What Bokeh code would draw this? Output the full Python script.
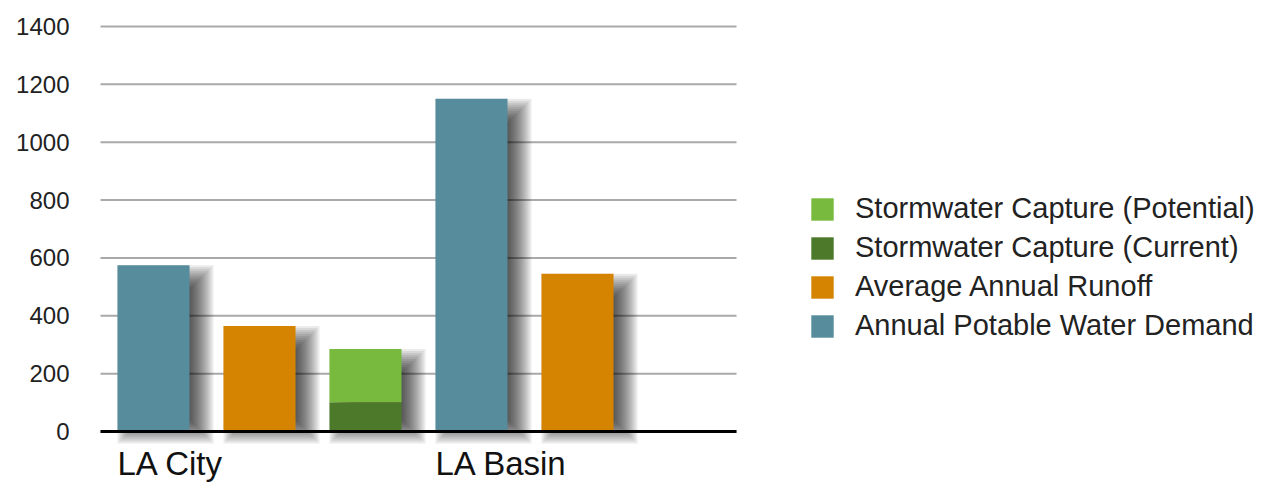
from bokeh.plotting import figure
from bokeh.models import Range1d, Legend, LegendItem
from bokeh.core.properties import value
from bokeh.embed import file_html
from bokeh.resources import INLINE

groups = ["LA City", "LA Basin"]
series = ["Annual Potable Water Demand", "Average Annual Runoff", "Stormwater Capture"]
demand = [575, 1150]
runoff = [365, 545]
storm_potential = [285, None]
storm_current = [100, None]
y_ticks = [0, 200, 400, 600, 800, 1000, 1200, 1400]

C_DEMAND = "#578C9C"
C_RUNOFF = "#D48400"
C_POT = "#78BA3E"
C_CUR = "#4D7A2A"
FONT = "Liberation Sans"

W, H = 1262, 483
# pixel geometry of the plotting area inside the full-canvas frame
PX_LEFT, PX_ZERO, UNIT_PX = 100, 431, 106.0
Y_PX_PER_UNIT = 405.0 / 1400.0
px_x = 1.0 / UNIT_PX
px_y = 1.0 / Y_PX_PER_UNIT

nser = len(series)
nslots = len(groups) * nser
x_range = Range1d(-PX_LEFT * px_x, (W - PX_LEFT) * px_x)
y_range = Range1d(-(H - PX_ZERO) * px_y, PX_ZERO * px_y)

p = figure(width=W, height=H, output_backend="svg", toolbar_location=None,
           x_range=x_range, y_range=y_range,
           min_border=0, min_border_left=0, min_border_right=0,
           min_border_top=0, min_border_bottom=0)
p.outline_line_color = None
p.axis.visible = False
p.grid.visible = False
p.background_fill_color = "white"
p.border_fill_color = "white"

# gridlines
p.segment(x0=[0] * len(y_ticks), x1=[nslots] * len(y_ticks), y0=y_ticks, y1=y_ticks,
          line_color="#A9A9A9", line_width=2)

# y tick labels
p.text(x=[-31 * px_x] * len(y_ticks), y=y_ticks, text=[str(t) for t in y_ticks],
       text_font=value(FONT), text_font_size="24px", text_color="#222222",
       text_align="right", text_baseline="middle")

bw = 0.68

# soft drop shadows: stack of translucent rectangles approximating a blur
dx, dy_top, dy_bot = 12, 12, 0
E = 12
for e in range(-E, E + 1, 2):
    for gi, g in enumerate(groups):
        base = gi * nser
        tops = [demand[gi], runoff[gi], storm_potential[gi]]
        for si, t in enumerate(tops):
            if t is None:
                continue
            c = base + si + 0.5
            p.quad(left=c - bw / 2 + (dx - e) * px_x, right=c + bw / 2 + (dx + e) * px_x,
                   bottom=-(dy_bot + e) * px_y, top=t - (dy_top - e) * px_y,
                   fill_color="#000000", fill_alpha=0.08, line_color=None)

# bars
renderers = {}
for gi, g in enumerate(groups):
    base = gi * nser
    items = [(base + 0.5, 0, demand[gi], C_DEMAND, "demand"),
             (base + 1.5, 0, runoff[gi], C_RUNOFF, "runoff")]
    if storm_potential[gi] is not None:
        items.append((base + 2.5, storm_current[gi], storm_potential[gi], C_POT, "pot"))
        items.append((base + 2.5, 0, storm_current[gi], C_CUR, "cur"))
    for c, b, t, col, key in items:
        r = p.quad(left=c - bw / 2, right=c + bw / 2, bottom=b, top=t,
                   fill_color=col, line_color=None)
        renderers.setdefault(key, r)

# baseline axis
p.segment(x0=[0], x1=[nslots], y0=[0], y1=[0], line_color="black", line_width=3)

# group labels, left aligned with each group's first bar
p.text(x=[gi * nser + 0.5 - bw / 2 for gi in range(len(groups))],
       y=[-(463 - PX_ZERO) * px_y] * len(groups), text=groups,
       text_font=value(FONT), text_font_size="33px", text_color="#111111",
       text_align="left", text_baseline="middle")

legend = Legend(items=[
    LegendItem(label="Stormwater Capture (Potential)", renderers=[renderers["pot"]]),
    LegendItem(label="Stormwater Capture (Current)", renderers=[renderers["cur"]]),
    LegendItem(label="Average Annual Runoff", renderers=[renderers["runoff"]]),
    LegendItem(label="Annual Potable Water Demand", renderers=[renderers["demand"]]),
], location=(808, 141))
legend.background_fill_alpha = 0
legend.border_line_color = None
legend.padding = 0
legend.margin = 0
legend.glyph_width = 28
legend.glyph_height = 28
legend.label_height = 28
legend.spacing = 6
legend.label_standoff = 19
legend.label_text_font = FONT
legend.label_text_font_size = "29px"
legend.label_text_color = "#222222"
p.add_layout(legend, "center")

open("out.html", "w").write(file_html(p, INLINE))
